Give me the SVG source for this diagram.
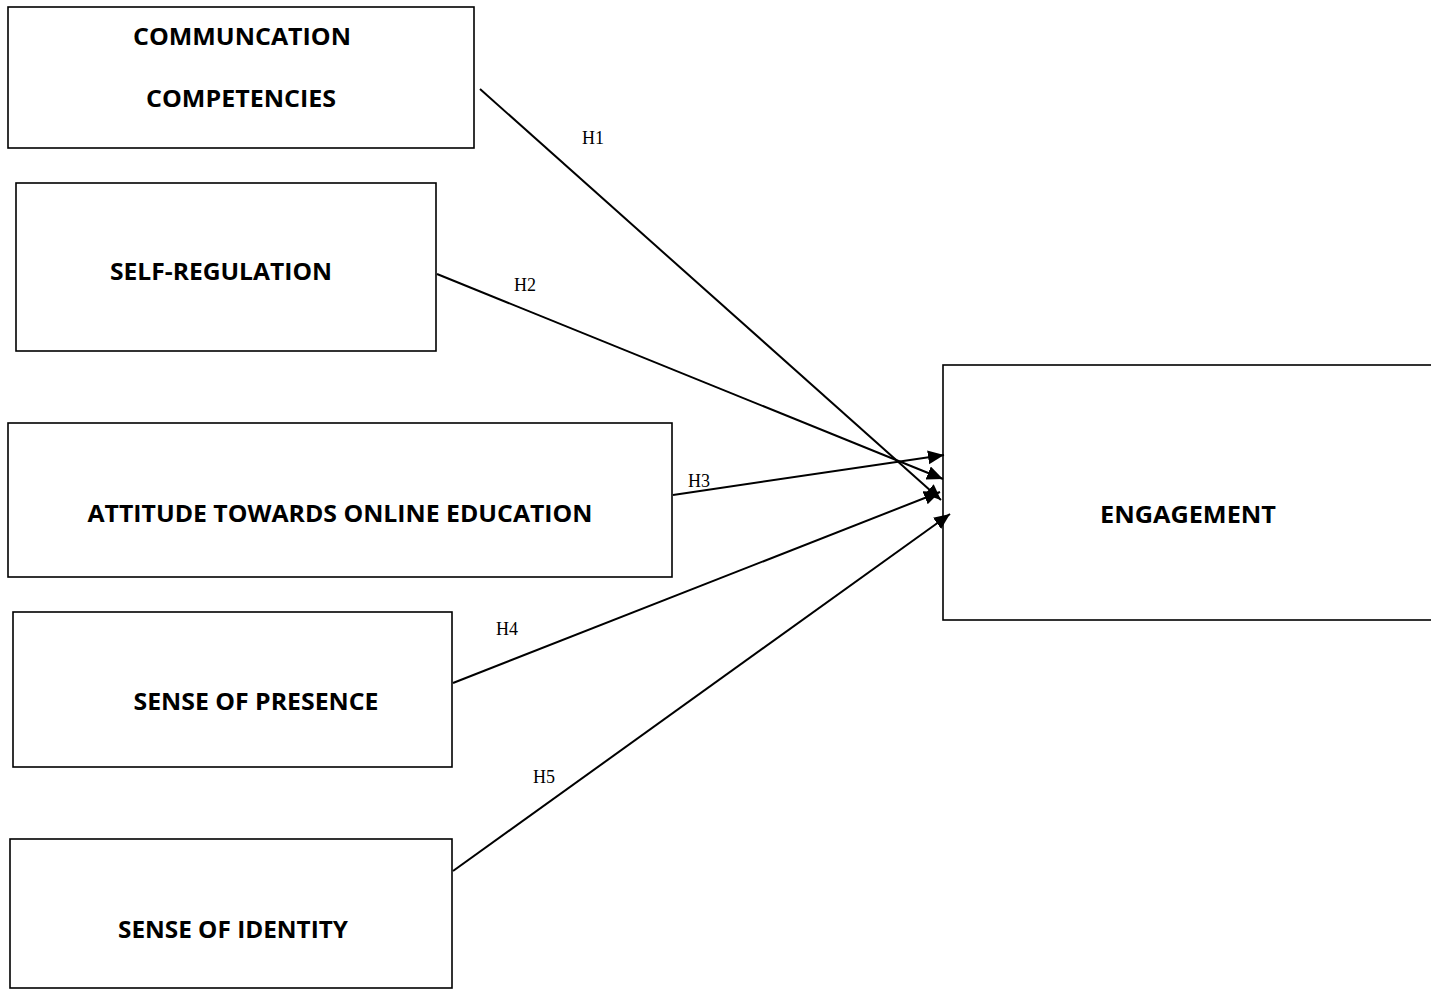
<svg xmlns="http://www.w3.org/2000/svg" width="1431" height="989" viewBox="0 0 1431 989">
<style>
.box{fill:#fff;stroke:#000;stroke-width:1.6}
.t{font-family:"Open Sans","Liberation Sans",Arial,sans-serif;font-weight:bold;font-size:24px;fill:#000;text-anchor:middle}
.h{font-family:"Liberation Serif","Times New Roman",serif;font-size:18px;fill:#000}
.c{stroke:#000;stroke-width:2;fill:none;marker-end:url(#ah)}
</style>
<defs>
<marker id="ah" markerUnits="userSpaceOnUse" markerWidth="18" markerHeight="16" refX="16" refY="7" orient="auto">
<path d="M0,0 L16,7 L0,14 Z" fill="#000"/>
</marker>
</defs>
<rect width="1431" height="989" fill="#fff"/>
<g id="node-communication">
<rect class="box" x="8" y="7" width="466" height="141"/>
<text class="t" x="242" y="45" textLength="218" lengthAdjust="spacingAndGlyphs">COMMUNCATION</text>
<text class="t" x="241" y="107" textLength="190" lengthAdjust="spacingAndGlyphs">COMPETENCIES</text>
</g>
<g id="node-selfregulation">
<rect class="box" x="16" y="183" width="420" height="168"/>
<text class="t" x="221" y="280" textLength="222" lengthAdjust="spacingAndGlyphs">SELF-REGULATION</text>
</g>
<g id="node-attitude">
<rect class="box" x="8" y="423" width="664" height="154"/>
<text class="t" x="340" y="522" textLength="505" lengthAdjust="spacingAndGlyphs">ATTITUDE TOWARDS ONLINE EDUCATION</text>
</g>
<g id="node-presence">
<rect class="box" x="13" y="612" width="439" height="155"/>
<text class="t" x="256" y="710" textLength="245" lengthAdjust="spacingAndGlyphs">SENSE OF PRESENCE</text>
</g>
<g id="node-identity">
<rect class="box" x="10" y="839" width="442" height="149"/>
<text class="t" x="233" y="938" textLength="230" lengthAdjust="spacingAndGlyphs">SENSE OF IDENTITY</text>
</g>
<g id="node-engagement">
<rect class="box" x="943" y="365" width="500" height="255"/>
<text class="t" x="1188" y="523" textLength="176" lengthAdjust="spacingAndGlyphs">ENGAGEMENT</text>
</g>
<g id="connectors">
<line class="c" x1="480" y1="89" x2="941" y2="500"/>
<line class="c" x1="437" y1="274" x2="943" y2="479"/>
<line class="c" x1="673" y1="495" x2="944" y2="455"/>
<line class="c" x1="453" y1="683" x2="940" y2="492"/>
<line class="c" x1="453" y1="871" x2="950" y2="514"/>
<text class="h" x="582" y="144">H1</text>
<text class="h" x="514" y="291">H2</text>
<text class="h" x="688" y="487">H3</text>
<text class="h" x="496" y="635">H4</text>
<text class="h" x="533" y="783">H5</text>
</g>
</svg>
